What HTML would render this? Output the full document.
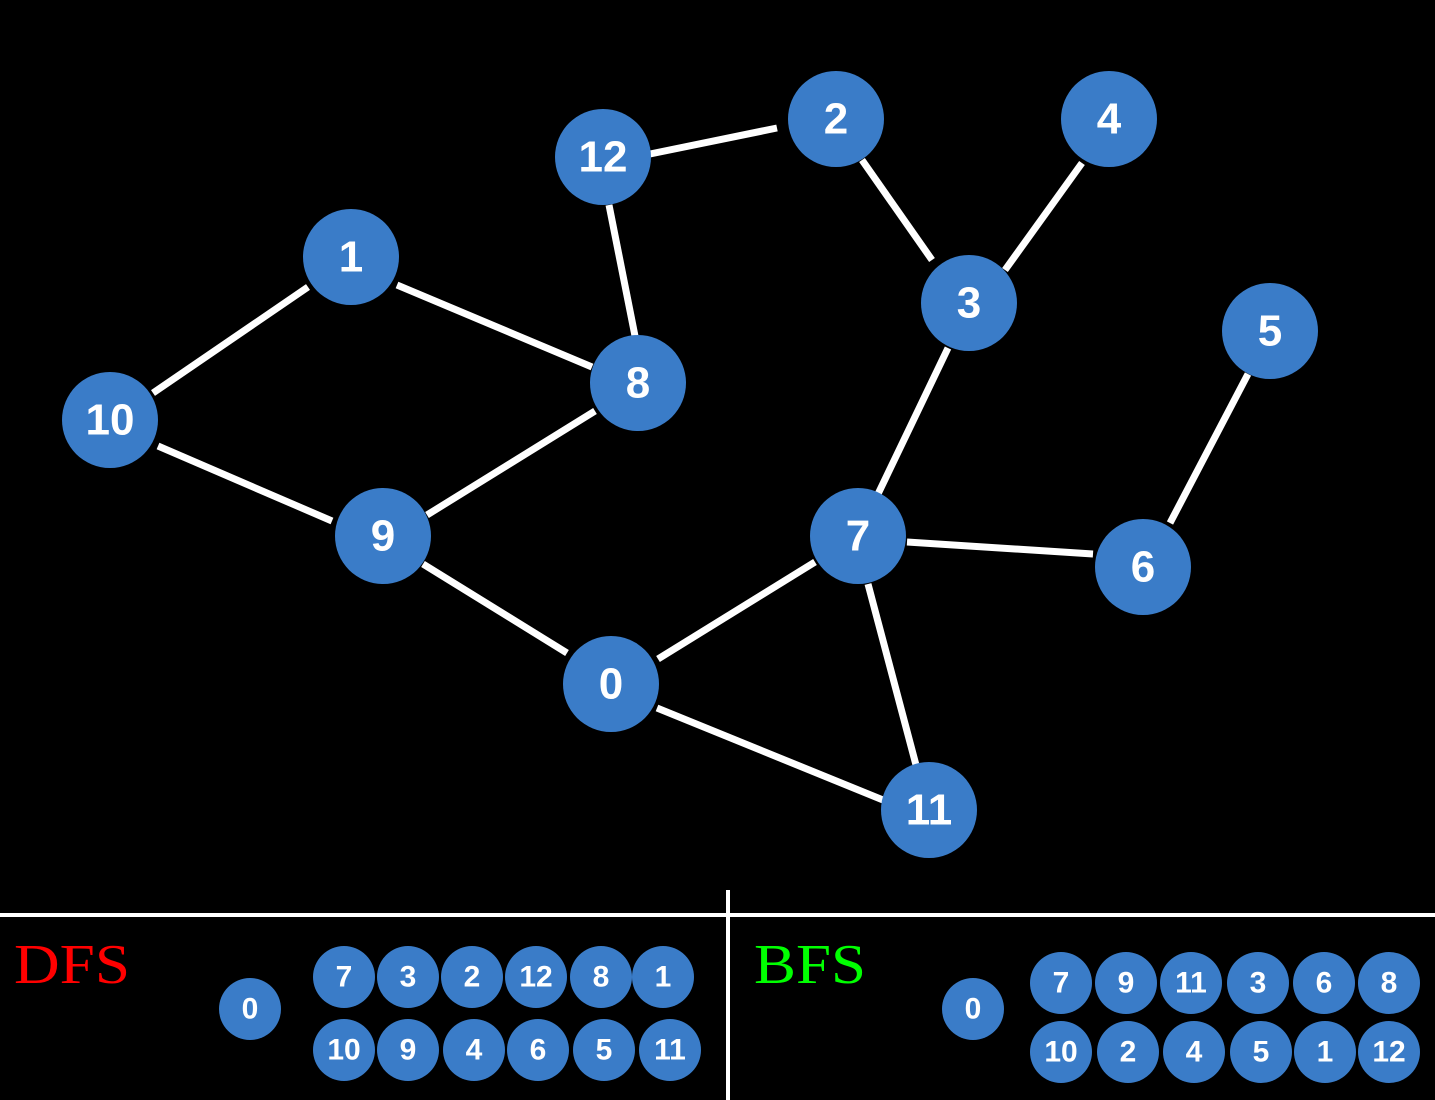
<!DOCTYPE html>
<html><head><meta charset="utf-8"><style>
html,body{margin:0;padding:0;background:#000;}
svg{display:block}
</style></head><body>
<svg width="1435" height="1100" viewBox="0 0 1435 1100" xmlns="http://www.w3.org/2000/svg">
<rect width="1435" height="1100" fill="#000"/>
<g stroke="#fff" stroke-width="7" stroke-linecap="butt">
<line x1="650" y1="154" x2="777" y2="128"/>
<line x1="862" y1="160" x2="932" y2="260"/>
<line x1="1082" y1="163" x2="1005" y2="270"/>
<line x1="609" y1="205" x2="635" y2="336"/>
<line x1="397" y1="285" x2="592" y2="367"/>
<line x1="308" y1="287" x2="153" y2="393"/>
<line x1="158" y1="446" x2="332" y2="521"/>
<line x1="595" y1="411" x2="427" y2="515"/>
<line x1="423" y1="564" x2="567" y2="653"/>
<line x1="948" y1="348" x2="878" y2="494"/>
<line x1="907" y1="542" x2="1093" y2="554"/>
<line x1="1248" y1="374" x2="1170" y2="523"/>
<line x1="815" y1="562" x2="658" y2="659"/>
<line x1="868" y1="584" x2="916" y2="765"/>
<line x1="657" y1="708" x2="883" y2="800"/>
</g>
<g fill="#3a7cc8">
<circle cx="603" cy="157" r="48"/><circle cx="836" cy="119" r="48"/>
<circle cx="1109" cy="119" r="48"/><circle cx="351" cy="257" r="48"/>
<circle cx="969" cy="303" r="48"/><circle cx="1270" cy="331" r="48"/>
<circle cx="110" cy="420" r="48"/><circle cx="638" cy="383" r="48"/>
<circle cx="383" cy="536" r="48"/><circle cx="858" cy="536" r="48"/>
<circle cx="1143" cy="567" r="48"/><circle cx="611" cy="684" r="48"/>
<circle cx="929" cy="810" r="48"/>
</g>
<g fill="#fff" font-family="Liberation Sans, sans-serif" font-weight="bold" font-size="44" text-anchor="middle" dominant-baseline="central">
<text x="603" y="157">12</text><text x="836" y="119">2</text>
<text x="1109" y="119">4</text><text x="351" y="257">1</text>
<text x="969" y="303">3</text><text x="1270" y="331">5</text>
<text x="110" y="420">10</text><text x="638" y="383">8</text>
<text x="383" y="536">9</text><text x="858" y="536">7</text>
<text x="1143" y="567">6</text><text x="611" y="684">0</text>
<text x="929" y="810">11</text>
</g>
<line x1="0" y1="915" x2="1435" y2="915" stroke="#fff" stroke-width="4"/>
<line x1="728" y1="890" x2="728" y2="1100" stroke="#fff" stroke-width="4"/>
<text x="14" y="983" font-family="Liberation Serif, serif" font-size="56" fill="#ff0000" textLength="116" lengthAdjust="spacingAndGlyphs">DFS</text>
<text x="754" y="983" font-family="Liberation Serif, serif" font-size="56" fill="#00ff00" textLength="112" lengthAdjust="spacingAndGlyphs">BFS</text>
<g fill="#3a7cc8">
<circle cx="250" cy="1009" r="31"/>
<circle cx="344" cy="977" r="31"/><circle cx="408" cy="977" r="31"/><circle cx="472" cy="977" r="31"/><circle cx="536" cy="977" r="31"/><circle cx="601" cy="977" r="31"/><circle cx="663" cy="977" r="31"/>
<circle cx="344" cy="1050" r="31"/><circle cx="408" cy="1050" r="31"/><circle cx="474" cy="1050" r="31"/><circle cx="538" cy="1050" r="31"/><circle cx="604" cy="1050" r="31"/><circle cx="670" cy="1050" r="31"/>
<circle cx="973" cy="1009" r="31"/>
<circle cx="1061" cy="983" r="31"/><circle cx="1126" cy="983" r="31"/><circle cx="1191" cy="983" r="31"/><circle cx="1258" cy="983" r="31"/><circle cx="1324" cy="983" r="31"/><circle cx="1389" cy="983" r="31"/>
<circle cx="1061" cy="1052" r="31"/><circle cx="1128" cy="1052" r="31"/><circle cx="1194" cy="1052" r="31"/><circle cx="1261" cy="1052" r="31"/><circle cx="1325" cy="1052" r="31"/><circle cx="1389" cy="1052" r="31"/>
</g>
<g fill="#fff" font-family="Liberation Sans, sans-serif" font-weight="bold" font-size="30" text-anchor="middle" dominant-baseline="central">
<text x="250" y="1009">0</text>
<text x="344" y="977">7</text><text x="408" y="977">3</text><text x="472" y="977">2</text><text x="536" y="977">12</text><text x="601" y="977">8</text><text x="663" y="977">1</text>
<text x="344" y="1050">10</text><text x="408" y="1050">9</text><text x="474" y="1050">4</text><text x="538" y="1050">6</text><text x="604" y="1050">5</text><text x="670" y="1050">11</text>
<text x="973" y="1009">0</text>
<text x="1061" y="983">7</text><text x="1126" y="983">9</text><text x="1191" y="983">11</text><text x="1258" y="983">3</text><text x="1324" y="983">6</text><text x="1389" y="983">8</text>
<text x="1061" y="1052">10</text><text x="1128" y="1052">2</text><text x="1194" y="1052">4</text><text x="1261" y="1052">5</text><text x="1325" y="1052">1</text><text x="1389" y="1052">12</text>
</g>
</svg>
</body></html>
